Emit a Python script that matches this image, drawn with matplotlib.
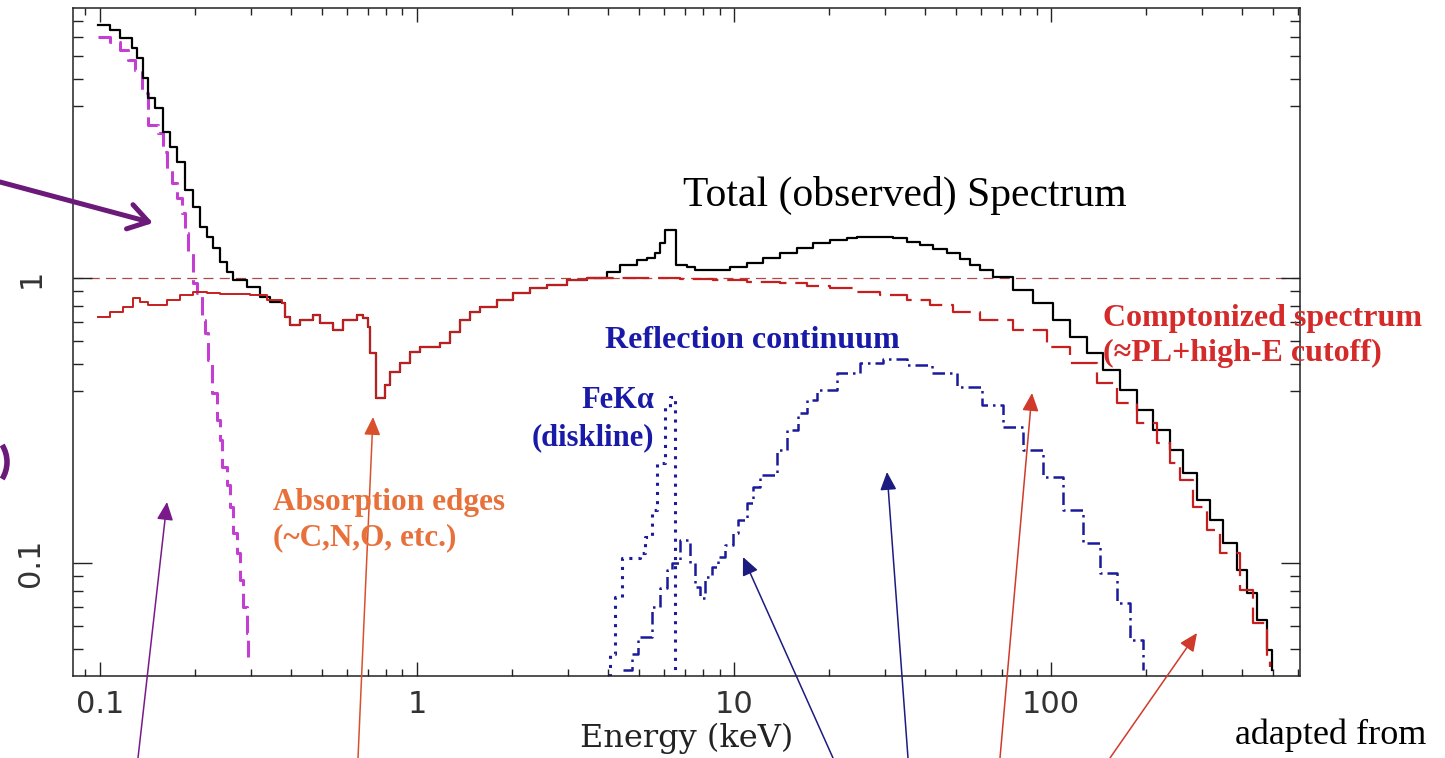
import matplotlib
matplotlib.use("Agg")
import numpy as np
import matplotlib.pyplot as plt
from matplotlib.patches import FancyArrowPatch, Arc
from matplotlib.ticker import LogLocator, NullFormatter

# --- spectrum components (energy in keV, flux in arbitrary units) ---
total_energy = [0.0986, 0.1076, 0.1156, 0.1262, 0.1309, 0.1367, 0.1417, 0.1491, 0.1581, 0.1663,
                0.1750, 0.1854, 0.1965, 0.2067, 0.2176, 0.2273, 0.2390, 0.2517, 0.2630, 0.2909,
                0.3198, 0.3438, 0.3751, 0.3835, 0.3976, 0.4275, 0.4698, 0.4943, 0.5433, 0.5842,
                0.6466, 0.6756, 0.7005, 0.7108, 0.7400, 0.7925, 0.8220, 0.8840, 0.9504, 1.022,
                1.182, 1.271, 1.366, 1.470, 1.580, 1.788, 2.009, 2.273, 2.571, 2.973,
                3.439, 3.976, 4.369, 4.943, 5.317, 5.633, 5.843, 6.059, 6.560, 7.108,
                7.534, 8.220, 9.714, 10.99, 12.35, 13.97, 15.81, 17.75, 20.09, 22.73,
                24.43, 26.28, 28.88, 31.74, 35.13, 38.63, 42.43, 46.98, 51.64, 55.53,
                59.70, 65.62, 75.88, 87.74, 101.5, 114.8, 129.9, 145.9,
                165.1, 186.7, 209.8, 237.3, 260.9, 288.8, 317.4, 348.9, 386.2, 415.2,
                446.4, 480.2, 497.8]
total_flux = [7.72, 7.42, 6.95, 6.41, 5.91, 5.03, 4.28, 3.95, 3.25, 2.88,
              2.55, 2.04, 1.775, 1.51, 1.393, 1.274, 1.138, 1.050, 0.984, 0.930,
              0.858, 0.824, 0.817, 0.730, 0.684, 0.712, 0.742, 0.695, 0.657, 0.712,
              0.742, 0.724, 0.673, 0.546, 0.379, 0.421, 0.468, 0.503, 0.550, 0.573,
              0.592, 0.646, 0.712, 0.760, 0.791, 0.837, 0.886, 0.922, 0.945, 0.984,
              1.000, 1.050, 1.111, 1.157, 1.175, 1.224, 1.327, 1.474, 1.111, 1.093,
              1.067, 1.067, 1.093, 1.129, 1.175, 1.224, 1.274, 1.327, 1.359, 1.382,
              1.390, 1.393, 1.393, 1.382, 1.338, 1.305, 1.264, 1.224, 1.166, 1.111,
              1.067, 1.008, 0.908, 0.817, 0.712, 0.621, 0.546, 0.476,
              0.405, 0.344, 0.293, 0.249, 0.207, 0.166, 0.1415, 0.1175, 0.0945, 0.0785,
              0.0631, 0.0495, 0.0421]

comp_energy = [0.0986, 0.1076, 0.1182, 0.1271, 0.1337, 0.1417, 0.1513, 0.1627, 0.1788, 0.1965,
               0.2176, 0.2390, 0.2630, 0.2972, 0.3363, 0.3751, 0.3835, 0.3976, 0.4275, 0.4698,
               0.4943, 0.5433, 0.5842, 0.6466, 0.6756, 0.7005, 0.7108, 0.7400, 0.7925, 0.8220,
               0.8840, 0.9504, 1.022, 1.182, 1.271, 1.366, 1.470, 1.580, 1.788, 2.009,
               2.273, 2.571, 2.973, 3.439, 5.317, 6.755, 8.586, 10.99, 13.97, 17.00,
               20.09, 24.43, 28.88, 35.13, 41.52, 49.08, 59.70, 75.88, 97.14, 114.8,
               139.7, 161.5, 186.7, 216.0, 237.3, 255.3, 280.5, 310.6, 341.5, 394.7,
               433.7, 480.2, 490.9]
comp_flux = [0.730, 0.760, 0.791, 0.851, 0.824, 0.804, 0.804, 0.837, 0.872, 0.893,
             0.886, 0.879, 0.879, 0.872, 0.837, 0.817, 0.730, 0.684, 0.712, 0.742,
             0.695, 0.657, 0.712, 0.742, 0.724, 0.673, 0.546, 0.379, 0.421, 0.468,
             0.503, 0.550, 0.573, 0.592, 0.646, 0.712, 0.760, 0.791, 0.837, 0.886,
             0.922, 0.945, 0.984, 1.000, 1.000, 0.992, 0.984, 0.968, 0.960, 0.937,
             0.922, 0.893, 0.872, 0.837, 0.804, 0.760, 0.712, 0.657, 0.573, 0.503,
             0.428, 0.364, 0.310, 0.2637, 0.2243, 0.1956, 0.1572, 0.1305, 0.1084, 0.0804,
             0.0616, 0.0468, 0.0432]
comp_dash_from = 3.439  # comptonized curve drawn dashed above this energy

bb_energy = [0.0986, 0.1076, 0.1156, 0.1226, 0.1289, 0.1357, 0.1417, 0.1524, 0.1581, 0.1627,
             0.1687, 0.1750, 0.1814, 0.1854, 0.1895, 0.1965, 0.2023, 0.2098, 0.2144, 0.2192,
             0.2256, 0.2339, 0.2390, 0.2426, 0.2517, 0.2571, 0.2630, 0.2705, 0.2764, 0.2825,
             0.2909, 0.2930]
bb_flux = [7.01, 6.73, 6.31, 5.82, 5.37, 4.46, 3.44, 3.23, 2.77, 2.39,
           2.15, 1.91, 1.69, 1.439, 1.224, 0.960, 0.886, 0.712, 0.641, 0.516,
           0.395, 0.3176, 0.270, 0.2172, 0.1878, 0.1572, 0.1274, 0.1084, 0.0872, 0.0701,
           0.0568, 0.0468]

refl_energy = [4.466, 4.767, 4.980, 5.512, 5.843, 6.146, 6.374, 6.755, 7.264, 7.534,
               7.810, 8.099, 8.522, 8.903, 9.367, 9.928, 10.29, 10.99, 11.48, 12.08,
               13.67, 14.70, 15.92, 17.00, 18.27, 21.13, 24.98, 29.51, 35.13, 42.13,
               50.52, 60.59, 70.57, 81.58, 94.36, 109.1, 126.2, 142.7, 161.5, 177.5,
               195.1]
refl_flux = [0.0421, 0.0479, 0.0550, 0.0701, 0.0817, 0.0945, 0.100, 0.1204, 0.100, 0.0824,
             0.0754, 0.0893, 0.0968, 0.1050, 0.1156, 0.1274, 0.1415, 0.1624, 0.1848, 0.2036,
             0.249, 0.293, 0.336, 0.373, 0.405, 0.464, 0.503, 0.520, 0.495, 0.464,
             0.4145, 0.3584, 0.300, 0.249, 0.2003, 0.1535, 0.1175, 0.0922, 0.0724, 0.0537,
             0.0421]

fe_energy = [4.00, 4.063, 4.213, 4.434, 5.052, 5.240, 5.512, 5.716, 6.059, 6.283, 6.515]
fe_flux = [0.035, 0.048, 0.076, 0.1041, 0.1084, 0.1234, 0.1535, 0.2243, 0.3526, 0.3824, 0.035]

x_ticks = [0.1, 1, 10, 100]
x_ticklabels = ["0.1", "1", "10", "100"]
y_ticks = [0.1, 1]
y_ticklabels = ["0.1", "1"]

W, H = 1445, 758


def fp(x, y):
    """image pixel (from top-left) -> figure fraction"""
    return (x / W, 1 - y / H)


fig = plt.figure(figsize=(W / 100, H / 100), dpi=100)
ax = fig.add_axes([73 / W, 1 - 676 / H, (1300 - 73) / W, (676 - 8) / H])

black = "#000000"
red = "#c81e1e"
purple = "#c23fd2"
navy = "#1a1a9a"

ax.axhline(1.0, color="#b04848", lw=0.9, ls=(0, (8, 5)), zorder=1)

ax.plot(total_energy, total_flux, drawstyle="steps-post", color=black, lw=1.6, zorder=3)

ce = np.array(comp_energy)
cf = np.array(comp_flux)
solid = ce <= comp_dash_from
dashed = ce >= comp_dash_from
ax.plot(ce[solid], cf[solid], drawstyle="steps-post", color=red, lw=1.4, zorder=4)
ax.plot(ce[dashed], cf[dashed], drawstyle="steps-post", color=red, lw=1.6,
        ls=(0, (12, 4)), zorder=4)

ax.plot(bb_energy, bb_flux, drawstyle="steps-post", color=purple, lw=2.2,
        ls=(0, (6, 2.5)), zorder=2)
ax.plot(refl_energy, refl_flux, drawstyle="steps-post", color=navy, lw=1.8,
        ls=(0, (5, 2, 1, 2)), zorder=2)
ax.plot(fe_energy, fe_flux, drawstyle="steps-post", color=navy, lw=2.2,
        ls=(0, (1, 2)), zorder=2)

ax.set_xscale("log")
ax.set_yscale("log")
ax.set_xlim(0.0822, 610)
ax.set_ylim(0.0401, 8.86)

ax.set_xticks(x_ticks)
ax.set_xticklabels(x_ticklabels)
ax.set_yticks(y_ticks)
ax.set_yticklabels(y_ticklabels, rotation=90, va="center")
ax.xaxis.set_minor_locator(LogLocator(base=10, subs=np.arange(2, 10)))
ax.yaxis.set_minor_locator(LogLocator(base=10, subs=[4, 5, 6, 7, 8, 9]))
ax.xaxis.set_minor_formatter(NullFormatter())
ax.yaxis.set_minor_formatter(NullFormatter())

ax.tick_params(which="both", direction="in", top=True, right=True, color="#222222",
               width=1.0, labelsize=22, labelcolor="#333333")
ax.tick_params(axis="x", which="major", length=10, pad=10)
ax.tick_params(axis="x", which="minor", length=5)
ax.tick_params(axis="y", which="major", length=14, pad=20)
ax.tick_params(axis="y", which="minor", length=7)
for lab in ax.get_xticklabels() + ax.get_yticklabels():
    lab.set_fontfamily("DejaVu Sans")
for sp in ax.spines.values():
    sp.set_linewidth(1.1)
    sp.set_color("#222222")

ax.set_xlabel("Energy (keV)", fontfamily="DejaVu Serif", fontsize=23, labelpad=3,
              color="#222222")

serif = "Liberation Serif"
fig.text(*fp(683, 195), "Total (observed) Spectrum", fontfamily=serif, fontsize=30,
         color=black, ha="left", va="center")
fig.text(*fp(605, 340), "Reflection continuum", fontfamily=serif, fontweight="bold",
         fontsize=23, color="#1a1aa8", ha="left", va="center")
fig.text(*fp(654, 419), "FeK\u03b1\n(diskline)", fontfamily=serif, fontweight="bold",
         fontsize=22, color="#1a1aa8", ha="right", va="center", multialignment="right",
         linespacing=1.4)
fig.text(*fp(273, 520), "Absorption edges\n(~C,N,O, etc.)", fontfamily=serif,
         fontweight="bold", fontsize=22.5, color="#e8703a", ha="left", va="center",
         linespacing=1.3)
fig.text(*fp(1103, 336), "Comptonized spectrum\n(\u2248PL+high-E cutoff)", fontfamily=serif,
         fontweight="bold", fontsize=23, color="#d42a2a", ha="left", va="center",
         linespacing=1.3)
fig.text(*fp(1235, 735), "adapted from", fontfamily=serif, fontsize=26, color=black,
         ha="left", va="center")


def arrow(tail, tip, color, lw, style):
    fig.add_artist(FancyArrowPatch(fp(*tail), fp(*tip), transform=fig.transFigure,
                                   arrowstyle=style, color=color, lw=lw,
                                   mutation_scale=20, shrinkA=0, shrinkB=0))


thin = "-|>,head_length=0.55,head_width=0.25"
arrow((0, 182), (153, 223), "#6b1a7a", 3.6, "->,head_length=0.7,head_width=0.45")
arrow((138, 758), (167, 502), "#7a1a8a", 1.1, thin)
arrow((358, 758), (373, 417), "#d9512c", 1.1, thin)
arrow((833, 758), (743, 557), "#1c1c80", 1.1, thin)
arrow((908, 758), (887, 472), "#1c1c80", 1.1, thin)
arrow((1000, 758), (1032, 393), "#d03a2a", 1.1, thin)
arrow((1110, 758), (1197, 633), "#d03a2a", 1.1, thin)

fig.add_artist(Arc(fp(-25, 462), 64 / W, 64 / H, theta1=-50, theta2=50,
                   transform=fig.transFigure, color="#6b1a7a", lw=4))

fig.savefig("out.png", dpi=100)
